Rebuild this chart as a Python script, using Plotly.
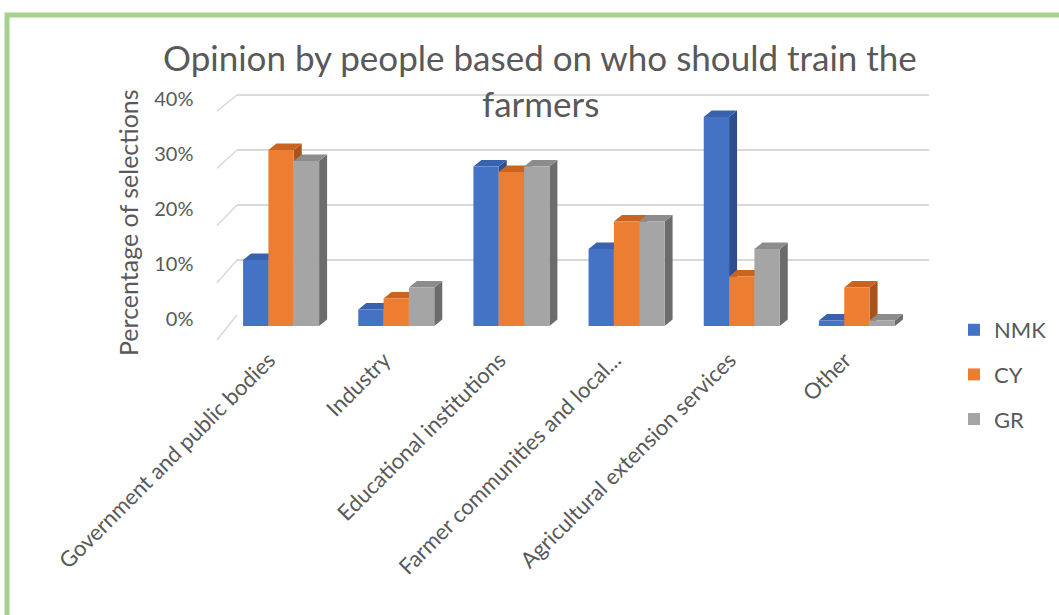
import plotly.graph_objects as go

# ---------------- data ----------------
categories = ["Government and public bodies", "Industry", "Educational institutions",
              "Farmer communities and local...", "Agricultural extension services", "Other"]
series_names = ["NMK", "CY", "GR"]
nmk = [12, 3, 29, 14, 38, 1]
cy = [32, 5, 28, 19, 9, 7]
gr = [30, 7, 29, 19, 14, 1]
y_ticks = [0, 10, 20, 30, 40]
y_tick_labels = ["0%", "10%", "20%", "30%", "40%"]
title_line1 = "Opinion by people based on who should train the"
title_line2 = "farmers"
y_title = "Percentage of selections"

# ---------------- styling ----------------
W, H = 1059, 615
FONT = "Lato"
TXT = "#595959"
front_colors = ["#4472C4", "#ED7D31", "#A5A5A5"]
top_colors = ["#3862AD", "#C9641F", "#8C8C8C"]
side_colors = ["#2E4F8C", "#A8541C", "#6C6C6C"]
GRID = "#D9D9D9"


def fx(px):
    return px / W


def fy(py):
    return (H - py) / H


YMAX = 42
PXU = 5.5                     # pixels per percentage point
FRONT_X0, FRONT_X1 = 223.5, 914.5
FRONT_Y0 = 326
BACK_X0, BACK_X1 = 237, 929
BACK_Y0 = 315
CAT_PX = (FRONT_X1 - FRONT_X0) / len(categories)
BAR_W = 0.22
DX = 8 / CAT_PX
DY = 6.5 / PXU

series_vals = [nmk, cy, gr]

fig = go.Figure()

# back-wall grid subplot (x, y)
fig.add_trace(go.Scatter(x=[None], y=[None], xaxis="x", yaxis="y",
                         showlegend=False, hoverinfo="skip"))

# 3D top / side faces (x2, y2), computed from values
for j, vals in enumerate(series_vals):
    sx, sy, tx, ty = [], [], [], []
    for i, v in enumerate(vals):
        xl = i - 0.33 + j * BAR_W
        xr = xl + BAR_W
        sx += [xr, xr + DX, xr + DX, xr, xr, None]
        sy += [0, DY, v + DY, v, 0, None]
        tx += [xl, xl + DX, xr + DX, xr, xl, None]
        ty += [v, v + DY, v + DY, v, v, None]
    fig.add_trace(go.Scatter(x=sx, y=sy, xaxis="x2", yaxis="y2", mode="lines",
                             fill="toself", fillcolor=side_colors[j],
                             line=dict(width=0, color=side_colors[j]),
                             showlegend=False, hoverinfo="skip"))
    fig.add_trace(go.Scatter(x=tx, y=ty, xaxis="x2", yaxis="y2", mode="lines",
                             fill="toself", fillcolor=top_colors[j],
                             line=dict(width=0, color=top_colors[j]),
                             showlegend=False, hoverinfo="skip"))

# front faces: real bars on an overlay of (x2, y2)
for j, (name, vals) in enumerate(zip(series_names, series_vals)):
    fig.add_trace(go.Bar(x=list(range(len(categories))), y=vals, name=name,
                         xaxis="x3", yaxis="y3", legendgroup=name,
                         marker=dict(color=front_colors[j], line=dict(width=0))))

shapes = [
    dict(type="rect", xref="paper", yref="paper", x0=fx(7), y0=fy(15), x1=fx(1075), y1=fy(640),
         line=dict(color="#A9D18E", width=5), layer="above"),
]
# left side-wall gridlines
for t in y_ticks:
    shapes.append(dict(type="line", xref="paper", yref="paper",
                       x0=fx(217), y0=fy(340 - 5.72 * t), x1=fx(BACK_X0), y1=fy(BACK_Y0 - PXU * t),
                       line=dict(color=GRID, width=1.5), layer="below"))

annotations = [
    dict(text=title_line1, xref="paper", yref="paper", x=fx(540), y=fy(57),
         xanchor="center", yanchor="middle", showarrow=False,
         font=dict(family=FONT, size=35, color=TXT)),
    dict(text=title_line2, xref="paper", yref="paper", x=fx(540), y=fy(103),
         xanchor="center", yanchor="middle", showarrow=False,
         font=dict(family=FONT, size=35, color=TXT)),
    dict(text=y_title, xref="paper", yref="paper", x=fx(128), y=fy(223),
         xanchor="center", yanchor="middle", showarrow=False, textangle=-90,
         font=dict(family=FONT, size=25, color=TXT)),
]

fig.update_layout(
    template="none",
    width=W, height=H, autosize=False,
    margin=dict(l=0, r=0, t=0, b=0, pad=0, autoexpand=False),
    paper_bgcolor="white", plot_bgcolor="rgba(0,0,0,0)",
    font=dict(family=FONT, color=TXT),
    barmode="group", bargap=0.34, bargroupgap=0,
    showlegend=True,
    legend=dict(x=fx(954), y=fy(309), xanchor="left", yanchor="top",
                font=dict(family=FONT, size=22, color=TXT),
                tracegroupgap=13, bgcolor="rgba(0,0,0,0)", borderwidth=0),
    xaxis=dict(domain=[fx(BACK_X0), fx(BACK_X1)], range=[0, 1], anchor="y", automargin=False,
               showgrid=False, showticklabels=False, zeroline=False, showline=False, ticks=""),
    yaxis=dict(domain=[fy(BACK_Y0), fy(BACK_Y0 - YMAX * PXU)], range=[0, YMAX], anchor="x",
               automargin=False,
               tickvals=y_ticks, showgrid=True, gridcolor=GRID, gridwidth=1.5,
               showticklabels=False, zeroline=False, showline=False, ticks=""),
    xaxis2=dict(domain=[fx(FRONT_X0), fx(FRONT_X1)], range=[-0.5, len(categories) - 0.5],
                anchor="y2", automargin=False,
                tickvals=list(range(len(categories))), ticktext=categories,
                tickangle=-45, showgrid=False, zeroline=False, showline=False, ticks="",
                ticklabelstandoff=16, ticklabelshift=-12,
                tickfont=dict(family=FONT, size=22, color=TXT)),
    yaxis2=dict(domain=[fy(FRONT_Y0), fy(FRONT_Y0 - YMAX * PXU)], range=[0, YMAX], anchor="x2",
                automargin=False,
                tickvals=y_ticks, ticktext=y_tick_labels, showgrid=False, zeroline=False,
                showline=False, ticks="", ticklabelstandoff=29, ticklabelshift=-7,
                tickfont=dict(family=FONT, size=20, color=TXT)),
    xaxis3=dict(overlaying="x2", range=[-0.5, len(categories) - 0.5], visible=False),
    yaxis3=dict(overlaying="y2", range=[0, YMAX], visible=False),
    shapes=shapes,
    annotations=annotations,
)

fig.write_html("out.html", config={"displayModeBar": False},
               post_script="document.body.style.margin='0px';")
